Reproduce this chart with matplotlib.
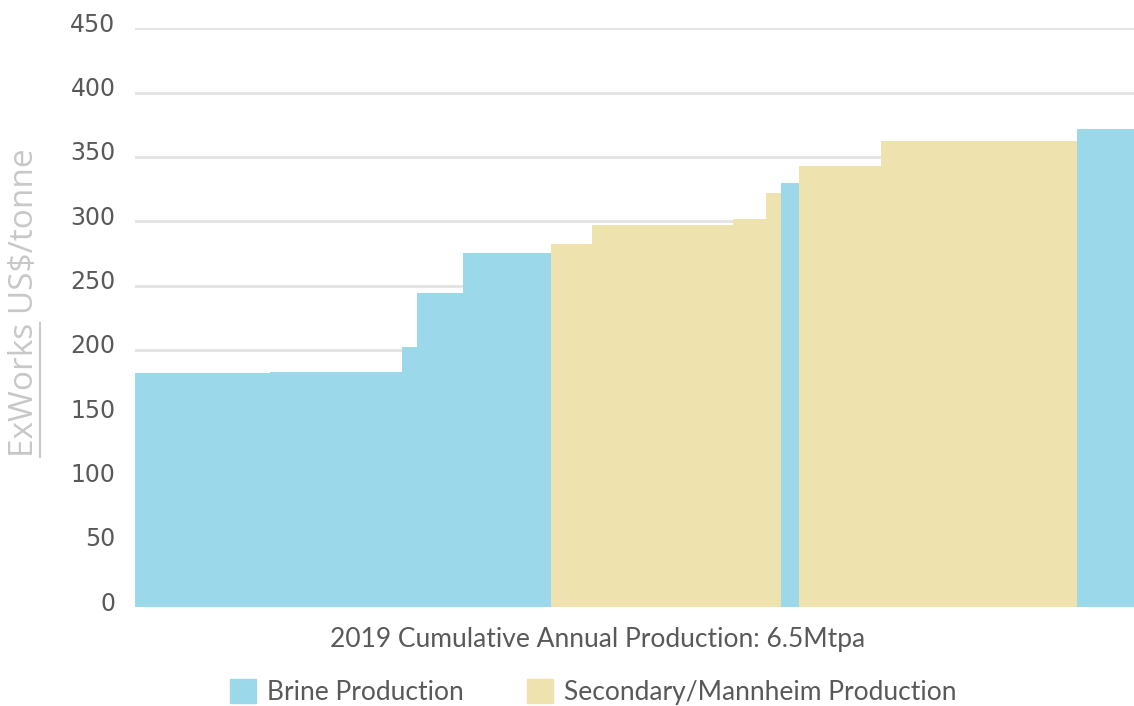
import numpy as np
import matplotlib.pyplot as plt
import matplotlib.transforms as mtransforms
from matplotlib.patches import Patch
from matplotlib.lines import Line2D

# cost curve data: capacity (Mtpa) and ExWorks cost (US$/tonne) per producer
capacity = [0.88, 0.86, 0.10, 0.30, 0.57, 0.27, 0.92, 0.21, 0.10, 0.12, 0.53, 1.28, 0.37]
cost = [182, 183, 202, 244, 275, 282, 297, 302, 322, 330, 343, 362, 372]
source = ["Brine", "Brine", "Brine", "Brine", "Brine",
          "Secondary", "Secondary", "Secondary", "Secondary",
          "Brine", "Secondary", "Secondary", "Brine"]

yticks = [0, 50, 100, 150, 200, 250, 300, 350, 400, 450]

colors = {"Brine": "#9bd8e9", "Secondary": "#eee2ae"}
text_grey = "#595959"

plt.rcParams["font.family"] = ["Lato", "DejaVu Sans"]

fig = plt.figure(figsize=(11.34, 7.06), dpi=100)
ax = fig.add_axes([0.119, 0.140, 0.881, 0.820])

lefts = np.concatenate([[0], np.cumsum(capacity)[:-1]])
ax.bar(lefts, cost, width=capacity, align="edge",
       color=[colors[s] for s in source], linewidth=0, zorder=2)

ax.set_xlim(0, sum(capacity))
ax.set_ylim(0, 450)
ax.set_yticks(yticks)
ax.set_xticks([])

ax.grid(axis="y", color="#e3e3e3", linewidth=2, zorder=0)
for s in ax.spines.values():
    s.set_visible(False)

ax.tick_params(axis="y", length=0, pad=14, labelsize=17, labelcolor=text_grey)
offset = mtransforms.ScaledTranslation(0, 6 / 100, fig.dpi_scale_trans)
for lab in ax.get_yticklabels():
    lab.set_transform(lab.get_transform() + offset)
    lab.set_family("DejaVu Sans")

# y label, "ExWorks" underlined by hand
ylab_props = dict(fontsize=24, color="#c8c8c8", family=["Open Sans", "DejaVu Sans"])
ylab = fig.text(0.022, 0.571, "ExWorks US$/tonne", rotation=90,
                ha="center", va="center", **ylab_props)

ax.set_xlabel("2019 Cumulative Annual Production: 6.5Mtpa", fontsize=19,
              color=text_grey)
ax.xaxis.set_label_coords(0.463, -0.035)

handles = [Patch(color=colors["Brine"], label="Brine Production"),
           Patch(color=colors["Secondary"], label="Secondary/Mannheim Production")]
fig.legend(handles=handles, loc="center", bbox_to_anchor=(0.523, 0.02),
           ncol=2, frameon=False, fontsize=19, labelcolor=text_grey,
           handlelength=1.0, handleheight=1.0, columnspacing=2.4, handletextpad=0.4)

fig.canvas.draw()
renderer = fig.canvas.get_renderer()
bb = ylab.get_window_extent(renderer)
tmp = fig.text(0, 0, "ExWorks", **ylab_props)
w = tmp.get_window_extent(renderer).width
tmp.remove()
ux = bb.x1 - 1
fig.add_artist(Line2D([ux, ux], [bb.y0, bb.y0 + w], color="#c8c8c8", linewidth=1.5,
                      transform=None))

plt.savefig("out.png", dpi=100)
